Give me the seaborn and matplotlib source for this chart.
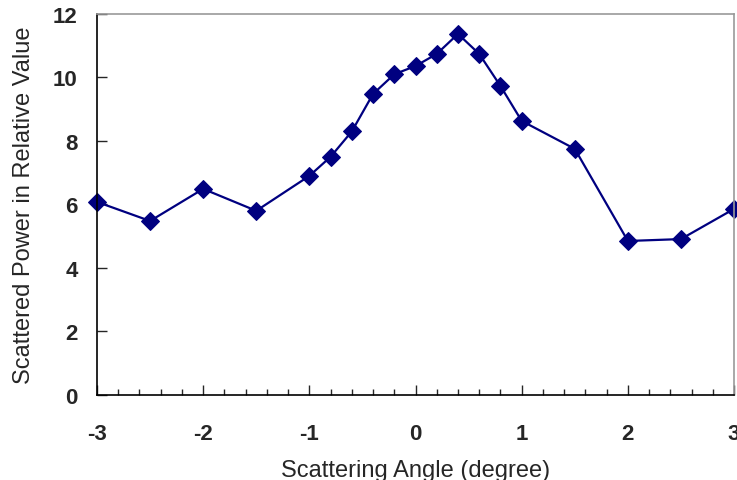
import numpy as np
import pandas as pd
import matplotlib
matplotlib.use("Agg")
import matplotlib.pyplot as plt
import seaborn as sns
from matplotlib.ticker import MultipleLocator

# values
angle = [-3.0, -2.5, -2.0, -1.5, -1.0, -0.8, -0.6, -0.4, -0.2, 0.0,
         0.2, 0.4, 0.6, 0.8, 1.0, 1.5, 2.0, 2.5, 3.0]
power = [6.08, 5.48, 6.49, 5.80, 6.90, 7.50, 8.30, 9.48, 10.10, 10.36,
         10.74, 11.37, 10.74, 9.73, 8.63, 7.75, 4.85, 4.91, 5.86]

df = pd.DataFrame({"angle": angle, "power": power})

sns.set_style("white")
plt.rcParams['font.family'] = ['Liberation Sans', 'DejaVu Sans']
plt.rcParams['axes.unicode_minus'] = False

fig = plt.figure(figsize=(7.37, 4.81), dpi=100)
ax = fig.add_axes([0.1316, 0.1767, 0.8644, 0.7923])

sns.lineplot(data=df, x="angle", y="power", ax=ax, color="#000080",
             marker="D", markersize=9, markeredgecolor="#000080",
             linewidth=1.6, clip_on=False)

ax.set_xlim(-3, 3)
ax.set_ylim(0, 12)
ax.xaxis.set_major_locator(MultipleLocator(1))
ax.xaxis.set_minor_locator(MultipleLocator(0.2))
ax.yaxis.set_major_locator(MultipleLocator(2))

ax.tick_params(axis="x", which="major", direction="in", length=7, width=1,
               pad=20, labelsize=16, bottom=True)
ax.tick_params(axis="x", which="minor", direction="in", length=4, width=1, bottom=True)
ax.tick_params(axis="y", which="major", direction="in", length=7, width=1,
               pad=14, labelsize=16, left=True)
for lab in ax.get_xticklabels() + ax.get_yticklabels():
    lab.set_fontweight("bold")

ax.spines["left"].set_color("black")
ax.spines["bottom"].set_color("black")
ax.spines["top"].set_color("#999999")
ax.spines["right"].set_color("#999999")
for s in ax.spines.values():
    s.set_linewidth(1.2)

ax.set_xlabel("Scattering Angle (degree)", fontsize=17, labelpad=11)
ax.set_ylabel("Scattered Power in Relative Value", fontsize=17, labelpad=13)

plt.savefig("out.png", dpi=100)
